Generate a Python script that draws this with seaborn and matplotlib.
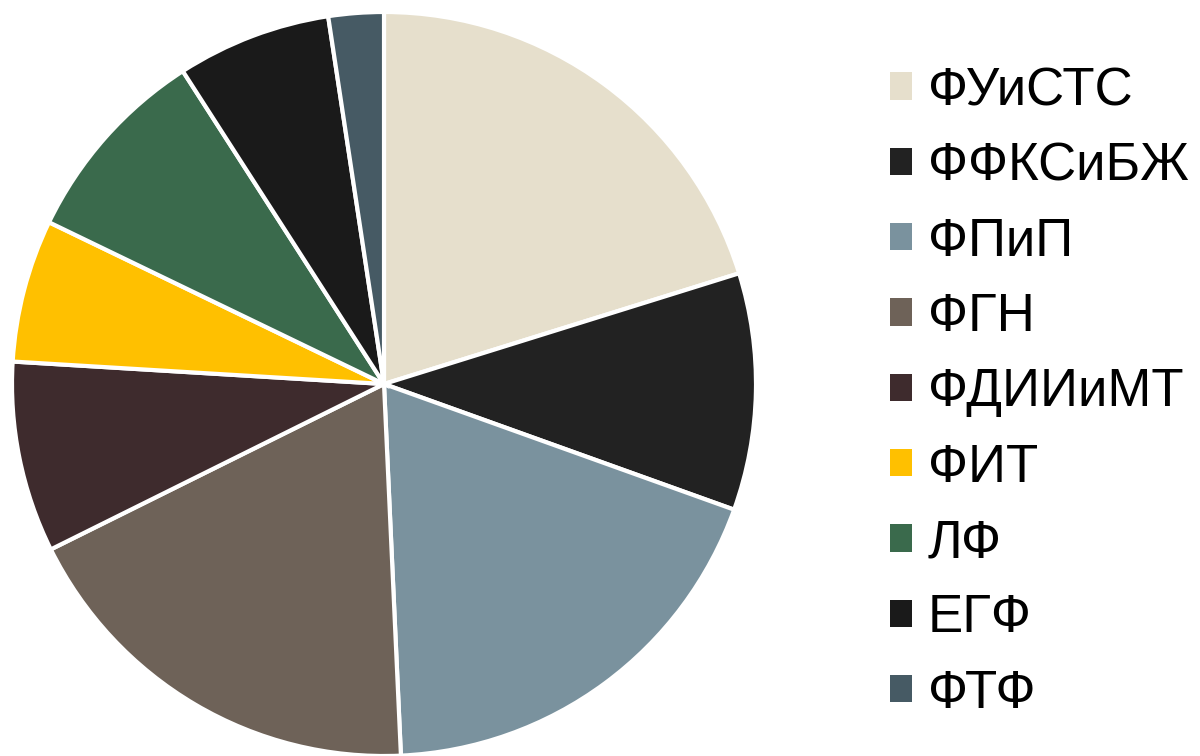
import matplotlib
matplotlib.use("Agg")
import matplotlib.pyplot as plt
import matplotlib.patches as mpatches
import seaborn as sns

# faculty shares (percent)
faculties = ["ФУиСТС", "ФФКСиБЖ", "ФПиП", "ФГН", "ФДИИиМТ", "ФИТ", "ЛФ", "ЕГФ", "ФТФ"]
shares = [20.2, 10.3, 18.8, 18.4, 8.3, 6.2, 8.75, 6.7, 2.4]
colors = ["#E6DFCC", "#222222", "#7A929E", "#6E6258", "#3E2B2D",
          "#FFC000", "#3A6A4C", "#1A1A1A", "#465A64"]

sns.set_style("white")
plt.rcParams['font.family'] = ['Liberation Sans', 'DejaVu Sans']
plt.rcParams['text.color'] = 'black'

fig = plt.figure(figsize=(12, 7.56), dpi=100)
ax = fig.add_axes([12 / 1200, 0, 744 / 1200, 744 / 756])

ax.pie(shares, colors=colors, startangle=90, counterclock=False, radius=1,
       wedgeprops=dict(edgecolor="white", linewidth=3))
ax.set_xlim(-1, 1)
ax.set_ylim(-1, 1)
ax.set_aspect("equal")
ax.axis("off")

handles = [mpatches.Patch(facecolor=c, edgecolor="none") for c in colors]
leg = fig.legend(handles, faculties, loc="upper left", bbox_to_anchor=(890 / 1200, 1 - 66 / 756),
                 frameon=False, fontsize=38, handlelength=0.42, handleheight=0.42,
                 handletextpad=0.3, labelspacing=0.48, borderpad=0, borderaxespad=0)
for t in leg.get_texts():
    t.set_color("black")

fig.savefig("out.png", dpi=100)
